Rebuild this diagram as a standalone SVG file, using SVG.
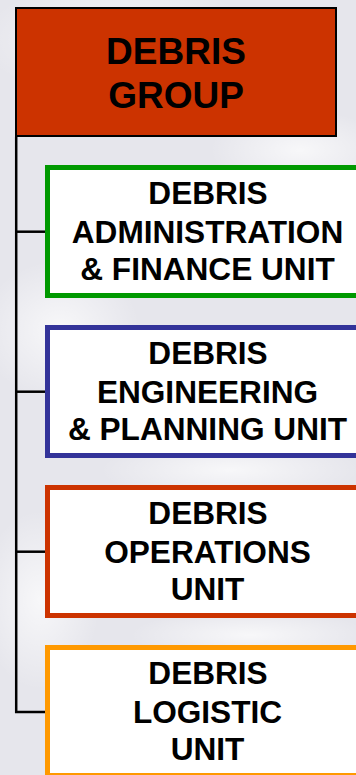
<svg xmlns="http://www.w3.org/2000/svg" width="356" height="775" viewBox="0 0 356 775">
<defs>
<radialGradient id="blotch" cx="0.5" cy="0.5" r="0.5">
<stop offset="0" stop-color="#ffffff" stop-opacity="0.7"/>
<stop offset="1" stop-color="#ffffff" stop-opacity="0"/>
</radialGradient>
<style>
.t{font-family:"Liberation Sans",Arial,sans-serif;font-weight:bold;fill:#000;text-anchor:middle}
.unit{fill:#fff;stroke-width:5}
.conn{stroke:#000;stroke-width:2.5;fill:none}
</style>
</defs>
<rect x="0" y="0" width="356" height="775" fill="#e6e6ec"/>
<ellipse cx="120" cy="40" rx="140" ry="60" fill="url(#blotch)"/>
<ellipse cx="300" cy="150" rx="90" ry="40" fill="url(#blotch)"/>
<ellipse cx="60" cy="330" rx="80" ry="70" fill="url(#blotch)"/>
<ellipse cx="230" cy="470" rx="130" ry="30" fill="url(#blotch)"/>
<ellipse cx="40" cy="600" rx="60" ry="90" fill="url(#blotch)"/>
<ellipse cx="250" cy="635" rx="120" ry="25" fill="url(#blotch)"/>

<g id="connectors">
<path class="conn" d="M16.2 137 V712 H47"/>
<path class="conn" d="M16.2 231.7 H47"/>
<path class="conn" d="M16.2 391.7 H47"/>
<path class="conn" d="M16.2 551.7 H47"/>
</g>

<g id="debris-group">
<rect x="16" y="8" width="320" height="128" fill="#cc3300" stroke="#000" stroke-width="2"/>
<text class="t" x="176" y="64" font-size="37">DEBRIS</text>
<text class="t" x="176" y="108" font-size="37">GROUP</text>
</g>

<g id="admin-finance">
<rect class="unit" x="47.5" y="167.5" width="320" height="128" stroke="#009900"/>
<text class="t" x="208" y="204" font-size="31.6">DEBRIS</text>
<text class="t" x="207.5" y="243" font-size="31.6">ADMINISTRATION</text>
<text class="t" x="207.5" y="280" font-size="31.6">&amp; FINANCE UNIT</text>
</g>

<g id="engineering-planning">
<rect class="unit" x="47.5" y="327.5" width="320" height="128" stroke="#333399"/>
<text class="t" x="208" y="364" font-size="31.6">DEBRIS</text>
<text class="t" x="207.5" y="403" font-size="31.6">ENGINEERING</text>
<text class="t" x="207.5" y="440" font-size="31.6">&amp; PLANNING UNIT</text>
</g>

<g id="operations">
<rect class="unit" x="47.5" y="487.5" width="320" height="128" stroke="#cc3300"/>
<text class="t" x="208" y="524" font-size="31.6">DEBRIS</text>
<text class="t" x="207.5" y="563" font-size="31.6">OPERATIONS</text>
<text class="t" x="207.5" y="600" font-size="31.6">UNIT</text>
</g>

<g id="logistic">
<rect class="unit" x="47.5" y="647.5" width="320" height="128" stroke="#ff9900"/>
<text class="t" x="208" y="684" font-size="31.6">DEBRIS</text>
<text class="t" x="207.5" y="723" font-size="31.6">LOGISTIC</text>
<text class="t" x="207.5" y="760" font-size="31.6">UNIT</text>
</g>
</svg>
